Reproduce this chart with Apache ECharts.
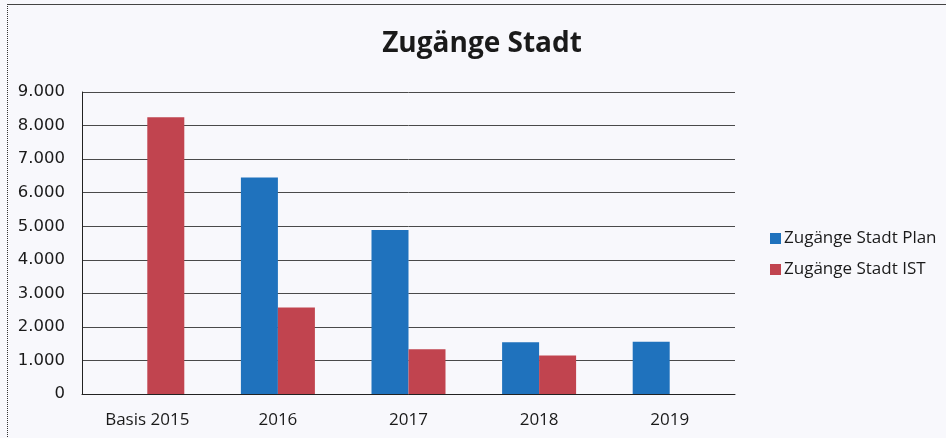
<!DOCTYPE html>
<html>
<head>
<meta charset="utf-8">
<title>Zugänge Stadt</title>
<script src="https://cdn.jsdelivr.net/npm/echarts@6/dist/echarts.min.js"></script>
<style>
  html, body { margin: 0; padding: 0; background: #f8f8fc; }
  #frame { position: absolute; left: 7px; top: 4px; width: 960px; height: 460px;
           border-left: 1px dotted #333; border-top: 1px solid #444; }
  #chart { position: absolute; left: 0; top: 0; width: 946px; height: 438px; }
</style>
</head>
<body>
<div id="frame"></div>
<div id="chart"></div>
<script>
// Kategorien und Werte
const categories = ["Basis 2015", "2016", "2017", "2018", "2019"];
const planValues = [null, 6450, 4890, 1540, 1560];
const istValues = [8250, 2580, 1330, 1150, null];
const yTicks = [0, 1000, 2000, 3000, 4000, 5000, 6000, 7000, 8000, 9000];

const fmt = (v) => String(v).replace(/\B(?=(\d{3})+(?!\d))/g, ".");

const chart = echarts.init(document.getElementById("chart"));

const option = {
  backgroundColor: "transparent",
  animation: false,
  title: {
    text: "Zugänge Stadt",
    left: 477,
    top: 25,
    textAlign: "center",
    textStyle: {
      fontFamily: "Open Sans",
      fontWeight: "bold",
      fontSize: 28,
      color: "#1a1a1a",
    },
  },
  legend: {
    orient: "vertical",
    left: 765,
    top: 225,
    itemWidth: 11,
    itemHeight: 11,
    itemGap: 14,
    icon: "rect",
    textStyle: {
      fontFamily: "Open Sans",
      fontSize: 17,
      color: "#1a1a1a",
      padding: [0, 0, 0, -2],
    },
    data: ["Zugänge Stadt Plan", "Zugänge Stadt IST"],
  },
  grid: {
    left: 82,
    right: 211,
    top: 92,
    bottom: 44,
  },
  xAxis: {
    type: "category",
    data: categories,
    axisLine: { show: true, lineStyle: { color: "#222", width: 1 } },
    axisTick: { show: false },
    axisLabel: {
      margin: 18,
      fontFamily: "Open Sans",
      fontSize: 17,
      color: "#1a1a1a",
    },
  },
  yAxis: {
    type: "value",
    min: yTicks[0],
    max: yTicks[yTicks.length - 1],
    interval: 1000,
    axisLine: { show: true, lineStyle: { color: "#222", width: 1 } },
    axisTick: { show: false },
    axisLabel: {
      margin: 17,
      fontFamily: "DejaVu Sans",
      fontSize: 16.5,
      color: "#1a1a1a",
      formatter: (v) => fmt(v),
    },
    splitLine: { show: true, lineStyle: { color: "#4a4a4a", width: 1 } },
  },
  series: [
    {
      name: "Zugänge Stadt Plan",
      type: "bar",
      data: planValues,
      barWidth: 37,
      barGap: "0%",
      itemStyle: { color: "#1f72bd" },
    },
    {
      name: "Zugänge Stadt IST",
      type: "bar",
      data: istValues,
      barWidth: 37,
      itemStyle: { color: "#c1444f" },
    },
  ],
};

chart.setOption(option);
window.addEventListener("resize", () => {
  chart.resize();
});
</script>
</body>
</html>
